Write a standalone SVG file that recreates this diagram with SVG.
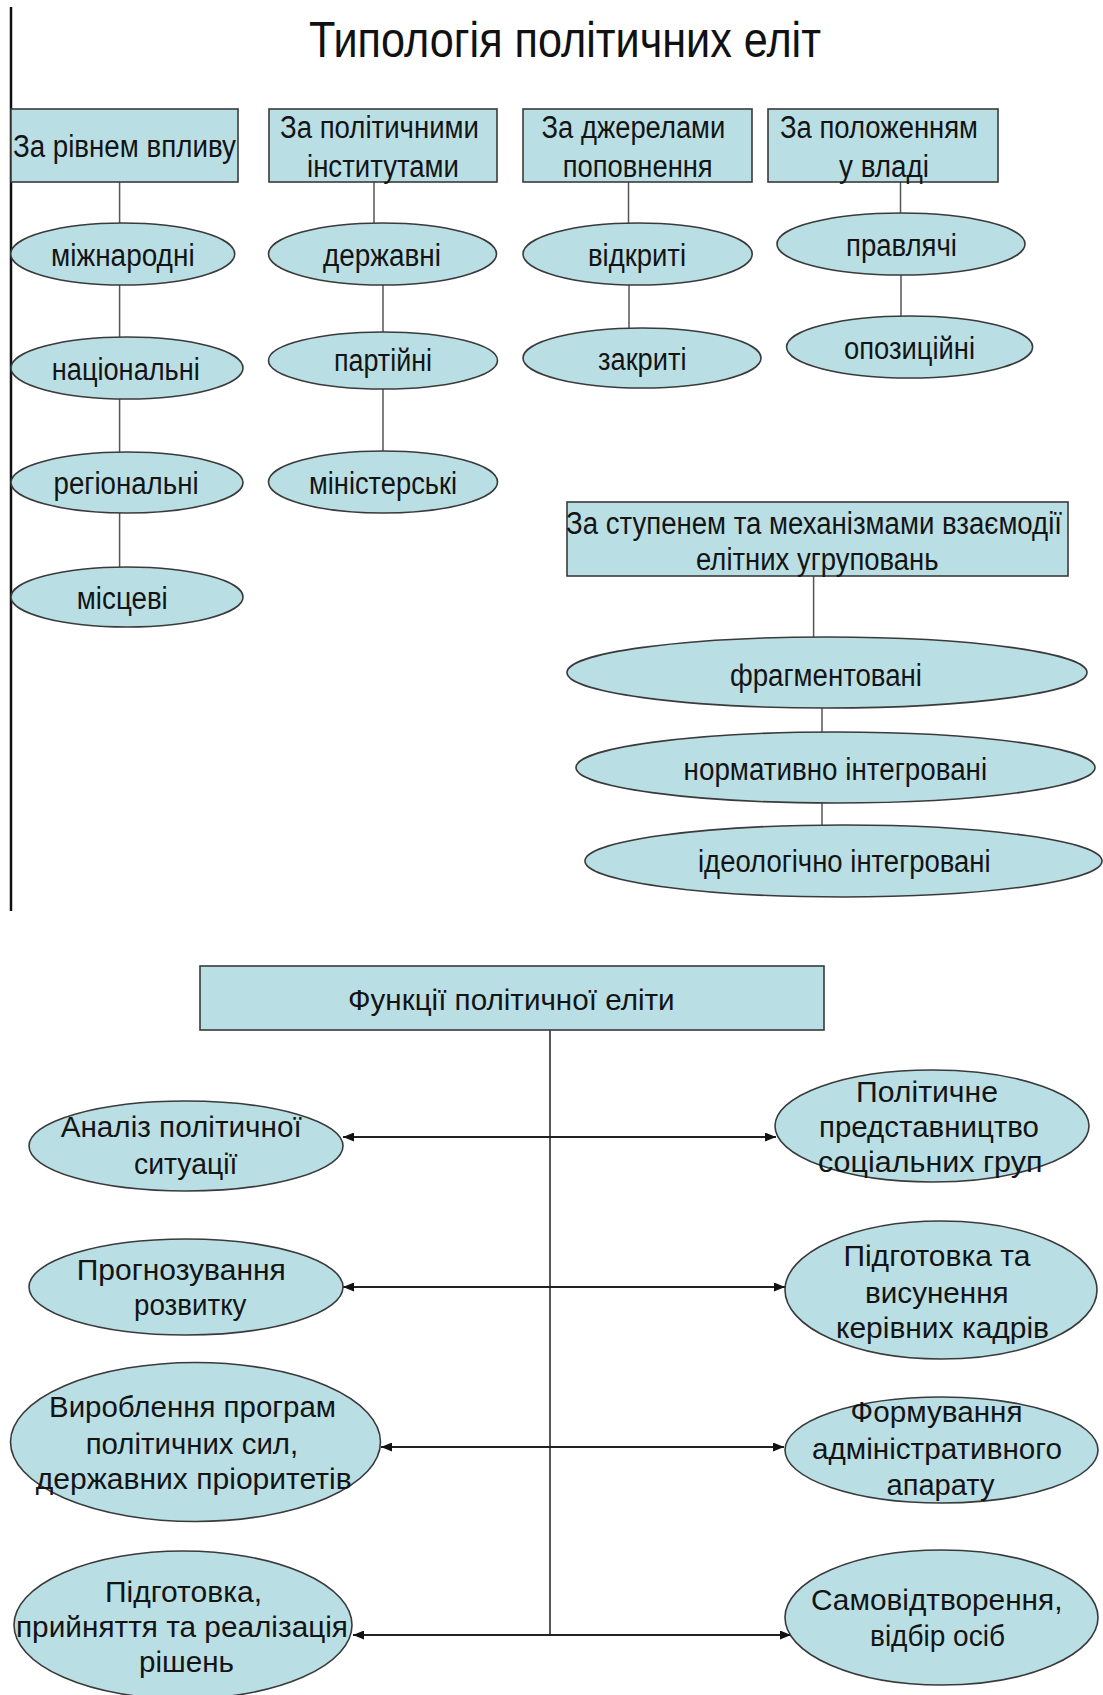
<svg xmlns="http://www.w3.org/2000/svg" width="1103" height="1695" viewBox="0 0 1103 1695">
<style>
.bg{fill:#ffffff}
.box,.ell{fill:#b9dfe4;stroke:#3a3a3a;stroke-width:1.6}
.t{font-family:"Liberation Sans",Arial,sans-serif;fill:#141414;font-size:31px}
.tb{font-family:"Liberation Sans",Arial,sans-serif;fill:#141414;font-size:29px}
.ttl{font-family:"Liberation Sans",Arial,sans-serif;fill:#111;font-size:50px}
.conn{stroke:#555;stroke-width:1.5;fill:none}
.arr{stroke:#222;stroke-width:1.8;fill:none;marker-start:url(#ah);marker-end:url(#ah)}
.border{stroke:#111;stroke-width:2.5}
</style>
<defs>
<marker id="ah" markerUnits="userSpaceOnUse" markerWidth="12" markerHeight="9" refX="11" refY="4.5" orient="auto-start-reverse">
<path d="M0,0 L11,4.5 L0,9 z" fill="#111"/>
</marker>
</defs>
<rect class="bg" x="0" y="0" width="1103" height="1695"/>

<g id="connectors">
<line class="border" x1="11" y1="7" x2="11" y2="911"/>
<line class="conn" x1="119.6" y1="182" x2="119.6" y2="223"/>
<line class="conn" x1="119.6" y1="285" x2="119.6" y2="337"/>
<line class="conn" x1="119.6" y1="399" x2="119.6" y2="452"/>
<line class="conn" x1="119.6" y1="513" x2="119.6" y2="567"/>
<line class="conn" x1="374" y1="182" x2="374" y2="223"/>
<line class="conn" x1="383" y1="285" x2="383" y2="332"/>
<line class="conn" x1="383" y1="389" x2="383" y2="451"/>
<line class="conn" x1="628.5" y1="182" x2="628.5" y2="223"/>
<line class="conn" x1="629" y1="285" x2="629" y2="328"/>
<line class="conn" x1="900.5" y1="182" x2="900.5" y2="213"/>
<line class="conn" x1="901" y1="275" x2="901" y2="316"/>
<line class="conn" x1="813.6" y1="576" x2="813.6" y2="637"/>
<line class="conn" x1="822" y1="708" x2="822" y2="732"/>
<line class="conn" x1="822" y1="803" x2="822" y2="825"/>
<line class="conn" x1="550" y1="1030" x2="550" y2="1635" style="stroke:#444;stroke-width:1.8"/>
<line class="arr" x1="343" y1="1137" x2="776" y2="1137"/>
<line class="arr" x1="343" y1="1287" x2="785" y2="1287"/>
<line class="arr" x1="381" y1="1447" x2="784" y2="1447"/>
<line class="arr" x1="353" y1="1635" x2="791" y2="1635"/>
</g>

<g id="title"><text class="ttl" x="309" y="57" textLength="512" lengthAdjust="spacingAndGlyphs">Типологія політичних еліт</text></g>

<g id="box-vplyv"><rect class="box" x="11" y="109" width="227" height="73"/>
<text class="t" x="12.9" y="157" textLength="223" lengthAdjust="spacingAndGlyphs">За рівнем впливу</text></g>
<g id="box-instytuty"><rect class="box" x="269" y="109" width="228" height="73"/>
<text class="t" x="280" y="138" textLength="199" lengthAdjust="spacingAndGlyphs">За політичними</text>
<text class="t" x="307" y="177" textLength="152" lengthAdjust="spacingAndGlyphs">інститутами</text></g>
<g id="box-dzherela"><rect class="box" x="523" y="109" width="229" height="73"/>
<text class="t" x="541.6" y="138" textLength="183.6" lengthAdjust="spacingAndGlyphs">За джерелами</text>
<text class="t" x="562.7" y="177" textLength="150" lengthAdjust="spacingAndGlyphs">поповнення</text></g>
<g id="box-polozhennia"><rect class="box" x="768" y="109" width="230" height="73"/>
<text class="t" x="780" y="138" textLength="198" lengthAdjust="spacingAndGlyphs">За положенням</text>
<text class="t" x="839" y="177" textLength="90" lengthAdjust="spacingAndGlyphs">у владі</text></g>

<g id="e-mizhnarodni"><ellipse class="ell" cx="122.7" cy="254" rx="112" ry="31"/>
<text class="t" x="51" y="266" textLength="143.6" lengthAdjust="spacingAndGlyphs">міжнародні</text></g>
<g id="e-natsionalni"><ellipse class="ell" cx="127" cy="368" rx="116" ry="31"/>
<text class="t" x="51.8" y="380" textLength="148" lengthAdjust="spacingAndGlyphs">національні</text></g>
<g id="e-rehionalni"><ellipse class="ell" cx="127" cy="482.5" rx="116" ry="30.5"/>
<text class="t" x="53.6" y="494" textLength="145" lengthAdjust="spacingAndGlyphs">регіональні</text></g>
<g id="e-mistsevi"><ellipse class="ell" cx="127" cy="597" rx="116" ry="30"/>
<text class="t" x="76.8" y="609" textLength="91" lengthAdjust="spacingAndGlyphs">місцеві</text></g>

<g id="e-derzhavni"><ellipse class="ell" cx="382.5" cy="254" rx="114" ry="31"/>
<text class="t" x="323" y="266" textLength="118" lengthAdjust="spacingAndGlyphs">державні</text></g>
<g id="e-partiini"><ellipse class="ell" cx="383" cy="360.5" rx="114.5" ry="28.5"/>
<text class="t" x="334" y="371" textLength="98" lengthAdjust="spacingAndGlyphs">партійні</text></g>
<g id="e-ministerski"><ellipse class="ell" cx="383" cy="482" rx="114.5" ry="31"/>
<text class="t" x="309" y="494" textLength="148" lengthAdjust="spacingAndGlyphs">міністерські</text></g>

<g id="e-vidkryti"><ellipse class="ell" cx="637.6" cy="254" rx="114.6" ry="31"/>
<text class="t" x="588" y="266" textLength="98" lengthAdjust="spacingAndGlyphs">відкриті</text></g>
<g id="e-zakryti"><ellipse class="ell" cx="642" cy="358" rx="119" ry="30"/>
<text class="t" x="598" y="370" textLength="88.5" lengthAdjust="spacingAndGlyphs">закриті</text></g>

<g id="e-pravliachi"><ellipse class="ell" cx="901" cy="244" rx="124" ry="31"/>
<text class="t" x="846" y="256" textLength="111" lengthAdjust="spacingAndGlyphs">правлячі</text></g>
<g id="e-opozytsiini"><ellipse class="ell" cx="909.6" cy="347" rx="123" ry="31"/>
<text class="t" x="844" y="359" textLength="131" lengthAdjust="spacingAndGlyphs">опозиційні</text></g>

<g id="box-vzaiemodiia"><rect class="box" x="567" y="502" width="501" height="74"/>
<text class="t" x="566" y="534" textLength="496" lengthAdjust="spacingAndGlyphs">За ступенем та механізмами взаємодії</text>
<text class="t" x="696" y="570" textLength="242.6" lengthAdjust="spacingAndGlyphs">елітних угруповань</text></g>
<g id="e-frahmentovani"><ellipse class="ell" cx="827" cy="672.5" rx="260" ry="35.5"/>
<text class="t" x="730" y="686" textLength="192" lengthAdjust="spacingAndGlyphs">фрагментовані</text></g>
<g id="e-normatyvno"><ellipse class="ell" cx="835.5" cy="767.5" rx="259.5" ry="35.5"/>
<text class="t" x="683.6" y="780" textLength="303.5" lengthAdjust="spacingAndGlyphs">нормативно інтегровані</text></g>
<g id="e-ideolohichno"><ellipse class="ell" cx="843.5" cy="861" rx="258.5" ry="36"/>
<text class="t" x="698" y="872" textLength="292.6" lengthAdjust="spacingAndGlyphs">ідеологічно інтегровані</text></g>

<g id="box-funktsii"><rect class="box" x="200" y="966" width="624" height="64"/>
<text class="tb" x="348" y="1010" textLength="326.6" lengthAdjust="spacingAndGlyphs">Функції політичної еліти</text></g>

<g id="e-analiz"><ellipse class="ell" cx="186" cy="1146" rx="157" ry="45"/>
<text class="tb" x="60.7" y="1137" textLength="241" lengthAdjust="spacingAndGlyphs">Аналіз політичної</text>
<text class="tb" x="134" y="1174" textLength="103.5" lengthAdjust="spacingAndGlyphs">ситуації</text></g>
<g id="e-prohnozuvannia"><ellipse class="ell" cx="186" cy="1287" rx="157" ry="48"/>
<text class="tb" x="76.8" y="1280" textLength="209" lengthAdjust="spacingAndGlyphs">Прогнозування</text>
<text class="tb" x="134" y="1315" textLength="112.5" lengthAdjust="spacingAndGlyphs">розвитку</text></g>
<g id="e-vyroblennia"><ellipse class="ell" cx="195.5" cy="1442" rx="185" ry="79.5"/>
<text class="tb" x="49" y="1417" textLength="287" lengthAdjust="spacingAndGlyphs">Вироблення програм</text>
<text class="tb" x="85.7" y="1454" textLength="212.5" lengthAdjust="spacingAndGlyphs">політичних сил,</text>
<text class="tb" x="35.7" y="1489" textLength="316" lengthAdjust="spacingAndGlyphs">державних пріоритетів</text></g>
<g id="e-pidhotovka-rishen"><ellipse class="ell" cx="183" cy="1625" rx="169" ry="74"/>
<text class="tb" x="105" y="1602" textLength="157" lengthAdjust="spacingAndGlyphs">Підготовка,</text>
<text class="tb" x="16" y="1637" textLength="332" lengthAdjust="spacingAndGlyphs">прийняття та реалізація</text>
<text class="tb" x="139" y="1672" textLength="95" lengthAdjust="spacingAndGlyphs">рішень</text></g>

<g id="e-predstavnytstvo"><ellipse class="ell" cx="932" cy="1126" rx="157" ry="56"/>
<text class="tb" x="856" y="1102" textLength="142" lengthAdjust="spacingAndGlyphs">Політичне</text>
<text class="tb" x="819" y="1137" textLength="220" lengthAdjust="spacingAndGlyphs">представництво</text>
<text class="tb" x="818" y="1172" textLength="224.5" lengthAdjust="spacingAndGlyphs">соціальних груп</text></g>
<g id="e-kadry"><ellipse class="ell" cx="941" cy="1290" rx="156" ry="69"/>
<text class="tb" x="843.4" y="1266" textLength="187" lengthAdjust="spacingAndGlyphs">Підготовка та</text>
<text class="tb" x="865" y="1303" textLength="143.6" lengthAdjust="spacingAndGlyphs">висунення</text>
<text class="tb" x="836" y="1338" textLength="213" lengthAdjust="spacingAndGlyphs">керівних кадрів</text></g>
<g id="e-aparat"><ellipse class="ell" cx="941.5" cy="1450" rx="156.5" ry="53"/>
<text class="tb" x="850.6" y="1422" textLength="172" lengthAdjust="spacingAndGlyphs">Формування</text>
<text class="tb" x="812" y="1459" textLength="250" lengthAdjust="spacingAndGlyphs">адміністративного</text>
<text class="tb" x="886.5" y="1495" textLength="108" lengthAdjust="spacingAndGlyphs">апарату</text></g>
<g id="e-samovidtvorennia"><ellipse class="ell" cx="941.5" cy="1617.5" rx="156.5" ry="67.5"/>
<text class="tb" x="811" y="1610" textLength="251.5" lengthAdjust="spacingAndGlyphs">Самовідтворення,</text>
<text class="tb" x="870" y="1646" textLength="135" lengthAdjust="spacingAndGlyphs">відбір осіб</text></g>
</svg>
